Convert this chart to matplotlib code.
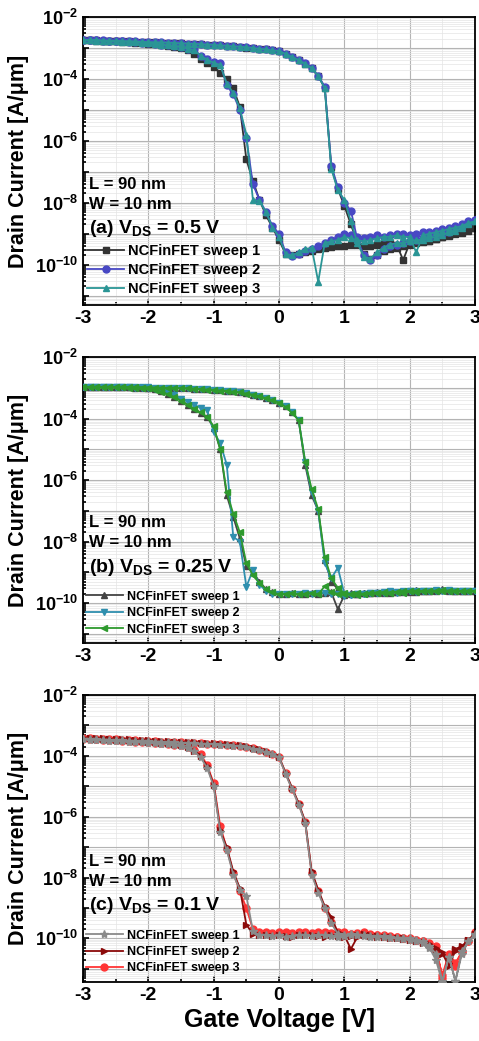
import numpy as np
import matplotlib
matplotlib.use("Agg")
from matplotlib import pyplot as plt
from matplotlib.ticker import LogLocator, MultipleLocator, FuncFormatter, NullFormatter

plt.rcParams['font.family'] = ['Liberation Sans', 'DejaVu Sans']
plt.rcParams['font.weight'] = 'bold'
plt.rcParams['axes.labelweight'] = 'bold'
plt.rcParams['mathtext.fontset'] = 'custom'
plt.rcParams['mathtext.rm'] = 'Liberation Sans:bold'
plt.rcParams['mathtext.bf'] = 'Liberation Sans:bold'
plt.rcParams['axes.unicode_minus'] = False

# gate voltage steps of the sweep (V)
vg = np.round(np.arange(-3.0, 3.001, 0.1), 2)

# log10 of drain current (A/um), forward = upper branch, backward = lower branch
# (a) VDS = 0.5 V
a_fwd1 = [-2.74, -2.75, -2.75, -2.76, -2.77, -2.77, -2.78, -2.79, -2.80, -2.80,
          -2.81, -2.82, -2.83, -2.83, -2.84, -2.85, -2.86, -2.87, -2.88, -2.89,
          -2.90, -2.92, -2.93, -2.95, -2.97, -2.99, -3.01, -3.03, -3.05, -3.08,
          -3.11, -3.20, -3.30, -3.40, -3.52, -3.66, -3.92, -4.28, -6.85, -7.55,
          -8.10, -8.70, -9.30, -9.65, -9.80, -9.70, -9.55, -9.50, -9.45, -9.40,
          -9.35, -9.30, -9.28, -9.22, -9.18, -9.12, -9.05, -8.98, -8.92, -8.85, -8.80]
a_bwd1 = [-2.74, -2.75, -2.76, -2.77, -2.78, -2.79, -2.80, -2.81, -2.83, -2.84,
          -2.86, -2.88, -2.90, -2.93, -2.96, -3.00, -3.08, -3.20, -3.35, -3.48,
          -3.62, -3.80, -4.00, -4.30, -4.90, -6.60, -7.30, -7.90, -8.40, -8.80,
          -9.20, -9.65, -9.70, -9.65, -9.60, -9.55, -9.50, -9.45, -9.42, -9.40,
          -9.38, -9.35, -9.35, -9.40, -9.38, -9.35, -9.32, -9.30, -9.35, -9.85,
          -9.30, -9.28, -9.25, -9.22, -9.18, -9.12, -9.08, -9.02, -8.96, -8.90, -8.82]
a_fwd2 = [-2.73, -2.74, -2.75, -2.75, -2.76, -2.77, -2.77, -2.78, -2.79, -2.80,
          -2.81, -2.81, -2.82, -2.83, -2.84, -2.85, -2.86, -2.87, -2.88, -2.89,
          -2.90, -2.91, -2.93, -2.94, -2.96, -2.98, -3.00, -3.02, -3.05, -3.07,
          -3.10, -3.18, -3.28, -3.38, -3.50, -3.64, -3.90, -4.25, -6.80, -7.50,
          -8.00, -8.25, -9.20, -9.70, -9.85, -9.70, -9.50, -9.40, -9.35, -9.30,
          -9.25, -9.20, -9.15, -9.10, -9.05, -9.00, -8.95, -8.85, -8.75, -8.65, -8.55]
a_bwd2 = [-2.73, -2.74, -2.75, -2.76, -2.77, -2.78, -2.79, -2.80, -2.82, -2.83,
          -2.85, -2.87, -2.89, -2.92, -2.95, -2.98, -3.02, -3.05, -3.25, -3.35,
          -3.45, -3.50, -4.20, -4.50, -5.00, -5.90, -7.40, -7.90, -8.30, -8.75,
          -9.00, -9.60, -9.72, -9.65, -9.55, -9.50, -9.40, -9.30, -9.20, -9.10,
          -9.00, -9.05, -9.10, -9.15, -9.10, -9.05, -9.10, -9.05, -9.00, -9.00,
          -9.05, -9.00, -8.95, -8.95, -8.90, -8.85, -8.80, -8.75, -8.70, -8.60, -8.55]
a_fwd3 = [-2.74, -2.74, -2.75, -2.76, -2.76, -2.77, -2.78, -2.78, -2.79, -2.80,
          -2.81, -2.82, -2.82, -2.83, -2.84, -2.85, -2.86, -2.87, -2.88, -2.89,
          -2.90, -2.92, -2.93, -2.95, -2.96, -2.98, -3.00, -3.03, -3.05, -3.08,
          -3.10, -3.19, -3.29, -3.39, -3.51, -3.65, -3.91, -4.30, -6.90, -7.60,
          -7.90, -8.60, -9.30, -9.75, -9.80, -9.60, -9.45, -9.35, -9.30, -9.30,
          -9.25, -9.20, -9.20, -9.15, -9.10, -9.05, -8.95, -8.90, -8.80, -8.70, -8.60]
a_bwd3 = [-2.74, -2.75, -2.76, -2.77, -2.78, -2.79, -2.80, -2.81, -2.82, -2.84,
          -2.85, -2.87, -2.89, -2.92, -2.95, -2.98, -3.02, -3.08, -3.25, -3.38,
          -3.48, -3.55, -4.15, -4.45, -4.95, -5.80, -7.90, -7.95, -8.30, -8.80,
          -9.10, -9.65, -9.70, -9.60, -9.50, -9.45, -10.55, -9.30, -9.25, -9.20,
          -9.10, -9.15, -9.20, -9.25, -9.20, -9.15, -9.10, -9.10, -9.05, -9.10,
          -9.10, -9.60, -9.05, -9.00, -8.95, -8.90, -8.85, -8.80, -8.75, -8.65, -8.60]

# (b) VDS = 0.25 V
b_fwd1 = [-2.97, -2.97, -2.97, -2.97, -2.97, -2.97, -2.98, -2.98, -2.98, -2.98,
          -2.99, -2.99, -2.99, -3.00, -3.00, -3.01, -3.02, -3.03, -3.04, -3.05,
          -3.07, -3.08, -3.10, -3.12, -3.15, -3.18, -3.22, -3.27, -3.33, -3.40,
          -3.48, -3.60, -3.80, -4.05, -5.50, -6.50, -7.00, -8.60, -9.30, -9.55,
          -9.70, -9.68, -9.70, -9.68, -9.66, -9.68, -9.65, -9.66, -9.64, -9.65,
          -9.63, -9.64, -9.62, -9.60, -9.62, -9.58, -9.60, -9.62, -9.60, -9.62, -9.60]
b_bwd1 = [-2.97, -2.97, -2.97, -2.97, -2.98, -2.98, -2.98, -2.98, -2.99, -2.99,
          -3.00, -3.05, -3.12, -3.20, -3.30, -3.42, -3.55, -3.68, -3.82, -3.95,
          -4.30, -5.00, -6.50, -7.20, -7.90, -8.80, -9.00, -9.30, -9.55, -9.65,
          -9.70, -9.70, -9.68, -9.72, -9.70, -9.68, -9.70, -9.68, -9.65, -10.20,
          -9.75, -9.72, -9.70, -9.68, -9.66, -9.65, -9.66, -9.64, -9.65, -9.62,
          -9.60, -9.58, -9.62, -9.60, -9.58, -9.55, -9.58, -9.60, -9.62, -9.60, -9.62]
b_fwd2 = [-2.96, -2.96, -2.97, -2.97, -2.97, -2.97, -2.97, -2.98, -2.98, -2.98,
          -2.98, -2.99, -2.99, -3.00, -3.00, -3.01, -3.02, -3.03, -3.04, -3.05,
          -3.07, -3.08, -3.10, -3.12, -3.15, -3.18, -3.22, -3.27, -3.33, -3.40,
          -3.48, -3.60, -3.80, -4.05, -5.40, -6.40, -7.00, -8.70, -9.20, -8.85,
          -9.70, -9.75, -9.72, -9.70, -9.68, -9.66, -9.68, -9.65, -9.66, -9.64,
          -9.62, -9.64, -9.62, -9.60, -9.60, -9.62, -9.60, -9.62, -9.60, -9.62, -9.62]
b_bwd2 = [-2.96, -2.97, -2.97, -2.97, -2.97, -2.98, -2.98, -2.98, -2.99, -2.99,
          -3.00, -3.03, -3.08, -3.15, -3.25, -3.35, -3.45, -3.55, -3.65, -3.72,
          -4.43, -4.80, -5.50, -7.85, -8.00, -9.47, -8.93, -9.40, -9.60, -9.70,
          -9.72, -9.70, -9.72, -9.70, -9.68, -9.70, -9.66, -9.68, -9.70, -9.72,
          -9.76, -9.75, -9.72, -9.70, -9.68, -9.66, -9.64, -9.62, -9.64, -9.62,
          -9.62, -9.60, -9.62, -9.60, -9.58, -9.60, -9.58, -9.60, -9.62, -9.60, -9.62]
b_fwd3 = [-2.97, -2.97, -2.97, -2.98, -2.97, -2.98, -2.98, -2.98, -2.98, -2.99,
          -2.99, -2.99, -3.00, -3.00, -3.01, -3.01, -3.02, -3.03, -3.04, -3.06,
          -3.07, -3.09, -3.10, -3.13, -3.15, -3.19, -3.22, -3.28, -3.34, -3.41,
          -3.48, -3.62, -3.82, -4.05, -5.40, -6.30, -6.95, -8.50, -9.20, -9.50,
          -9.68, -9.72, -9.74, -9.70, -9.68, -9.66, -9.68, -9.66, -9.64, -9.66,
          -9.62, -9.63, -9.62, -9.60, -9.62, -9.60, -9.61, -9.60, -9.62, -9.60, -9.61]
b_bwd3 = [-2.97, -2.97, -2.97, -2.98, -2.98, -2.98, -2.98, -2.99, -2.99, -2.99,
          -3.00, -3.06, -3.13, -3.21, -3.30, -3.42, -3.55, -3.68, -3.80, -3.95,
          -4.25, -5.00, -6.40, -7.10, -7.70, -8.70, -9.10, -9.35, -9.55, -9.65,
          -9.72, -9.70, -9.68, -9.72, -9.70, -9.68, -9.72, -9.45, -9.65, -9.70,
          -9.72, -9.70, -9.68, -9.70, -9.68, -9.66, -9.65, -9.66, -9.64, -9.62,
          -9.62, -9.60, -9.62, -9.60, -9.60, -9.58, -9.60, -9.60, -9.62, -9.60, -9.62]

# (c) VDS = 0.1 V
c_fwd1 = [-3.44, -3.45, -3.46, -3.47, -3.48, -3.48, -3.49, -3.50, -3.51, -3.52,
          -3.52, -3.53, -3.54, -3.55, -3.56, -3.57, -3.58, -3.59, -3.60, -3.61,
          -3.62, -3.63, -3.65, -3.67, -3.69, -3.72, -3.76, -3.81, -3.88, -3.95,
          -4.05, -4.60, -5.10, -5.60, -6.20, -7.90, -8.50, -9.00, -9.50, -9.85,
          -9.90, -9.85, -9.90, -9.88, -9.92, -9.95, -9.92, -9.95, -9.98, -10.00,
          -10.00, -10.05, -10.10, -10.25, -10.50, -11.40, -10.60, -11.40, -10.40, -10.10, -9.85]
c_bwd1 = [-3.46, -3.47, -3.48, -3.49, -3.50, -3.51, -3.52, -3.53, -3.55, -3.56,
          -3.57, -3.59, -3.60, -3.62, -3.65, -3.68, -3.74, -3.85, -4.05, -4.40,
          -5.00, -6.50, -7.10, -7.90, -8.40, -8.60, -9.75, -9.90, -9.88, -9.92,
          -9.90, -9.95, -9.92, -9.88, -9.90, -9.92, -9.88, -9.90, -9.93, -9.95,
          -9.92, -9.90, -9.88, -9.92, -9.95, -9.93, -9.95, -9.98, -10.00, -10.02,
          -10.05, -10.10, -10.15, -10.30, -10.70, -11.45, -10.60, -11.40, -10.50, -10.10, -9.90]
c_fwd2 = [-3.40, -3.41, -3.42, -3.43, -3.44, -3.45, -3.45, -3.46, -3.47, -3.48,
          -3.49, -3.50, -3.51, -3.52, -3.53, -3.54, -3.55, -3.56, -3.57, -3.58,
          -3.59, -3.61, -3.62, -3.64, -3.66, -3.69, -3.73, -3.78, -3.85, -3.93,
          -4.03, -4.55, -5.05, -5.55, -6.15, -7.80, -8.40, -8.95, -9.30, -9.80,
          -9.90, -10.35, -9.95, -9.85, -9.90, -9.92, -9.95, -9.95, -9.98, -10.00,
          -10.05, -10.10, -10.15, -10.20, -10.30, -10.50, -10.90, -10.40, -10.30, -10.05, -9.85]
c_bwd2 = [-3.42, -3.43, -3.44, -3.45, -3.46, -3.47, -3.48, -3.49, -3.51, -3.52,
          -3.54, -3.56, -3.57, -3.59, -3.62, -3.65, -3.72, -3.83, -4.00, -4.35,
          -4.95, -6.45, -7.00, -7.80, -8.35, -9.55, -9.85, -9.88, -9.90, -9.92,
          -9.90, -9.92, -9.95, -9.90, -9.88, -9.90, -9.92, -9.95, -9.90, -9.92,
          -9.95, -9.92, -9.90, -9.88, -9.92, -9.95, -9.96, -9.98, -10.00, -10.02,
          -10.05, -10.08, -10.12, -10.20, -10.35, -10.45, -10.80, -10.35, -10.25, -10.05, -9.85]
c_fwd3 = [-3.42, -3.43, -3.44, -3.45, -3.46, -3.46, -3.47, -3.48, -3.49, -3.50,
          -3.51, -3.52, -3.53, -3.54, -3.55, -3.56, -3.57, -3.58, -3.59, -3.60,
          -3.61, -3.62, -3.64, -3.66, -3.68, -3.71, -3.75, -3.80, -3.87, -3.94,
          -4.04, -4.58, -5.08, -5.58, -6.18, -7.85, -8.45, -9.00, -9.45, -9.80,
          -9.80, -9.85, -9.82, -9.80, -9.85, -9.88, -9.90, -9.92, -9.95, -9.98,
          -10.00, -10.05, -10.10, -10.15, -10.25, -11.30, -10.55, -10.90, -10.40, -10.10, -9.80]
c_bwd3 = [-3.44, -3.45, -3.46, -3.47, -3.48, -3.49, -3.50, -3.51, -3.53, -3.54,
          -3.55, -3.57, -3.58, -3.60, -3.63, -3.66, -3.72, -3.82, -3.95, -4.30,
          -4.90, -6.30, -7.05, -7.85, -8.45, -9.00, -9.70, -9.80, -9.78, -9.82,
          -9.80, -9.78, -9.82, -9.80, -9.78, -9.82, -9.80, -9.78, -9.82, -9.85,
          -9.82, -9.85, -9.88, -9.85, -9.88, -9.90, -9.92, -9.95, -9.95, -10.00,
          -10.02, -10.05, -10.10, -10.20, -10.40, -11.20, -10.50, -10.80, -10.45, -10.10, -9.85]

labels = ['NCFinFET sweep 1', 'NCFinFET sweep 2', 'NCFinFET sweep 3']
decades = [10.0 ** e for e in range(-11, -1)]


def sweep(fwd, bwd):
    # forward -3 -> 3, then back 3 -> -3
    x = np.concatenate([vg, vg[::-1]])
    y = 10 ** np.concatenate([np.array(fwd), np.array(bwd)[::-1]])
    return x, y


def ytick_fmt(v, pos):
    e = int(round(np.log10(v)))
    if e % 2 == 0:
        return r'$\mathbf{10^{%d}}$' % e
    return ''


def panel(ax, data, colors, markers, msizes, zords, title, legsize, ymin):
    for (fwd, bwd), c, m, ms, z, lab in zip(data, colors, markers, msizes, zords, labels):
        x, y = sweep(fwd, bwd)
        ax.plot(x, y, color=c, marker=m, ms=ms, lw=1.3, mec=c, mfc=c, label=lab, zorder=z)
    ax.set_yscale('log')
    ax.set_xlim(-3, 3)
    ax.set_ylim(ymin, 1e-2)
    ax.set_yticks(decades)
    ax.yaxis.set_minor_locator(LogLocator(base=10, subs=np.arange(2, 10), numticks=20))
    ax.yaxis.set_major_formatter(FuncFormatter(ytick_fmt))
    ax.yaxis.set_minor_formatter(NullFormatter())
    ax.set_ylim(ymin, 1e-2)
    ax.xaxis.set_major_locator(MultipleLocator(1))
    ax.xaxis.set_minor_locator(MultipleLocator(0.5))
    ax.grid(True, which='major', color='#b4b4b4', lw=0.8)
    ax.grid(True, which='minor', color='#e4e4e4', lw=0.5)
    ax.set_axisbelow(True)
    ax.tick_params(which='both', direction='in', labelsize=13, width=1.2)
    ax.tick_params(axis='x', labelsize=14)
    ax.tick_params(which='major', length=4)
    ax.tick_params(which='minor', length=2)
    for s in ax.spines.values():
        s.set_linewidth(1.3)
    ax.set_ylabel('Drain Current [A/\u03bcm]', fontsize=15.5, fontweight='bold', labelpad=4)
    ax.text(0.015, 0.42, 'L = 90 nm', transform=ax.transAxes, fontsize=12,
            fontweight='bold', va='center')
    ax.text(0.015, 0.35, 'W = 10 nm', transform=ax.transAxes, fontsize=12,
            fontweight='bold', va='center')
    ax.text(0.015, 0.265, title, transform=ax.transAxes, fontsize=14,
            fontweight='bold', va='center')
    ax.legend(loc='lower left', bbox_to_anchor=(-0.012, 0.0), frameon=False,
              prop={'size': legsize, 'weight': 'bold'}, handlelength=37 / (legsize * 1.389),
              handletextpad=0.3, labelspacing=0.35, borderaxespad=0.2)


def main():
    fig = plt.figure(figsize=(4.79, 10.41), dpi=100)
    ax1 = fig.add_axes([0.1733, 0.707, 0.8184, 0.2767])
    ax2 = fig.add_axes([0.1733, 0.3823, 0.8184, 0.2747])
    ax3 = fig.add_axes([0.1733, 0.0567, 0.8184, 0.2757])

    panel(ax1, [(a_fwd1, a_bwd1), (a_fwd2, a_bwd2), (a_fwd3, a_bwd3)],
          ['#333333', '#4848c4', '#2a9595'], ['s', 'o', '^'], [4.5, 5, 5], [2, 3, 4],
          r'(a) $\mathbf{V_{DS}}$ = 0.5 V', 10.5, 5e-12)
    panel(ax2, [(b_fwd1, b_bwd1), (b_fwd2, b_bwd2), (b_fwd3, b_bwd3)],
          ['#444444', '#2f8fae', '#2e9a2e'], ['^', 'v', '<'], [4.5, 5, 5], [2, 3, 4],
          r'(b) $\mathbf{V_{DS}}$ = 0.25 V', 9, 5e-12)
    panel(ax3, [(c_fwd1, c_bwd1), (c_fwd2, c_bwd2), (c_fwd3, c_bwd3)],
          ['#8a8a8a', '#8b0a0a', '#ff3535'], ['*', '>', 'o'], [6, 5, 5], [4, 3, 2],
          r'(c) $\mathbf{V_{DS}}$ = 0.1 V', 9, 3.7e-12)
    ax3.set_xlabel('Gate Voltage [V]', fontsize=18, fontweight='bold', labelpad=3)

    fig.savefig('out.png', dpi=100)


if __name__ == "__main__":
    main()
